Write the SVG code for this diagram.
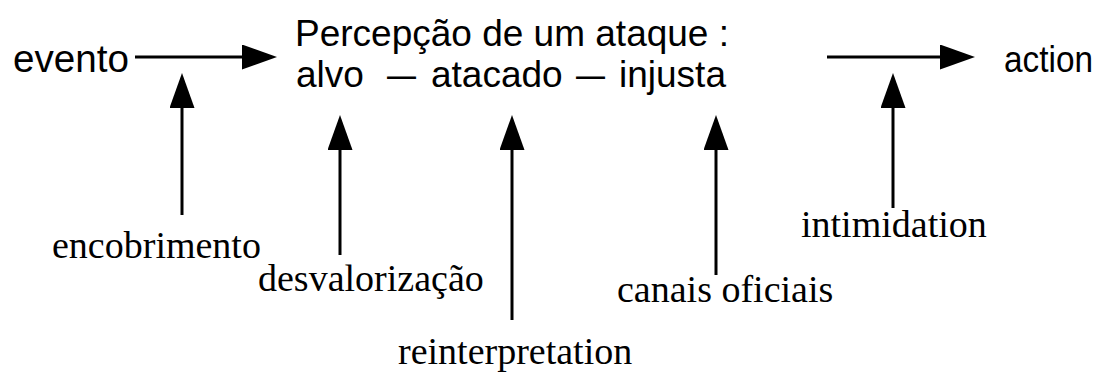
<svg xmlns="http://www.w3.org/2000/svg" width="1104" height="376" viewBox="0 0 1104 376">
<style>
.sans{font-family:"Liberation Sans",Arial,sans-serif;font-size:37px;fill:#000}
.serif{font-family:"Liberation Serif","Times New Roman",serif;font-size:38px;fill:#000}
.conn{stroke:#000;stroke-width:3;fill:none}
</style>
<defs>
<marker id="head" markerUnits="userSpaceOnUse" markerWidth="36" markerHeight="26" viewBox="0 0 36 26" refX="1" refY="12.5" orient="auto">
<path d="M0,0 L35,12.5 L0,25 z" fill="#000"/>
</marker>
</defs>
<rect width="1104" height="376" fill="#fff"/>
<g id="connectors">
<line class="conn" x1="135" y1="57" x2="243" y2="57" marker-end="url(#head)"/>
<line class="conn" x1="827" y1="57" x2="941" y2="57" marker-end="url(#head)"/>
<line class="conn" x1="182" y1="215" x2="182" y2="107" marker-end="url(#head)"/>
<line class="conn" x1="340" y1="255" x2="340" y2="149" marker-end="url(#head)"/>
<line class="conn" x1="512" y1="320" x2="512" y2="149" marker-end="url(#head)"/>
<line class="conn" x1="716" y1="275" x2="716" y2="149" marker-end="url(#head)"/>
<line class="conn" x1="893" y1="208" x2="893" y2="107" marker-end="url(#head)"/>
</g>
<g id="evento"><text class="sans" x="13" y="72" style="font-size:38px" textLength="116" lengthAdjust="spacingAndGlyphs">evento</text></g>
<g id="percepcao">
<text class="sans" x="295" y="46">Percepção de um ataque :</text>
<text class="sans" y="87"><tspan x="296">alvo</tspan><tspan x="387" textLength="29" lengthAdjust="spacingAndGlyphs">—</tspan><tspan x="431">atacado</tspan><tspan x="576" textLength="29" lengthAdjust="spacingAndGlyphs">—</tspan><tspan x="619">injusta</tspan></text>
</g>
<g id="action"><text class="sans" x="1004" y="72" textLength="89" lengthAdjust="spacingAndGlyphs">action</text></g>
<g id="encobrimento"><text class="serif" x="52" y="258">encobrimento</text></g>
<g id="desvalorizacao"><text class="serif" x="258" y="291">desvalorização</text></g>
<g id="reinterpretation"><text class="serif" x="398" y="364">reinterpretation</text></g>
<g id="canais"><text class="serif" x="617" y="302">canais oficiais</text></g>
<g id="intimidation"><text class="serif" x="801" y="237">intimidation</text></g>
</svg>
